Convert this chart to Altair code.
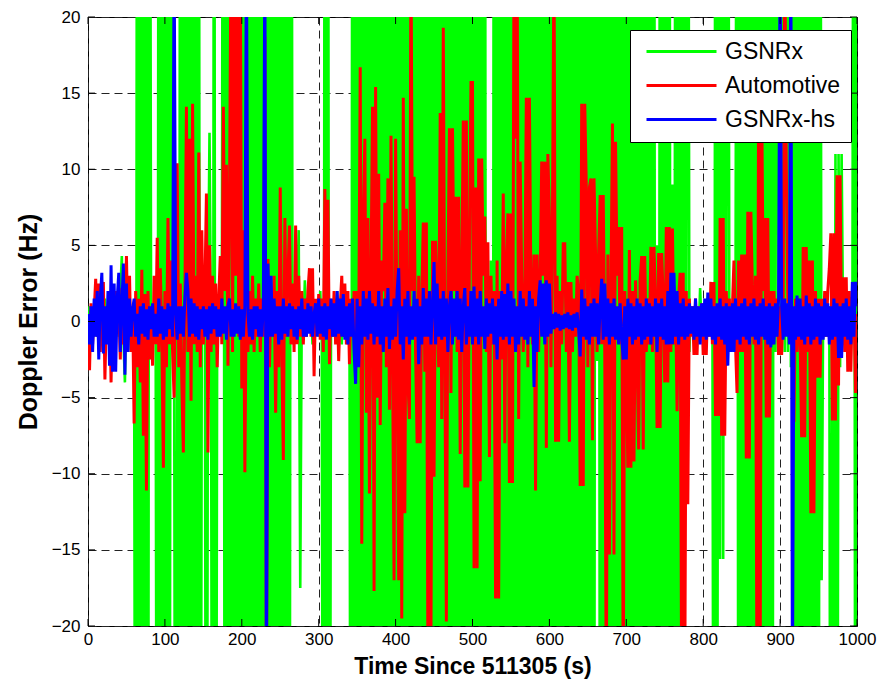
import altair as alt
import pandas as pd

# Doppler error of three receivers, one sample every 2 s over 1000 s
t = list(range(0, 1001, 2))

gsnrx = [
    -0.5, 1.0, -1.5, 0.5, -1.0, 1.5, -1.0, 0.5, -1.5, 1.0,
    -0.5, 1.5, -1.0, 0.8, -1.2, 1.0, -1.5, 2.0, -1.0, 1.5,
    -1.0, 2.0, 4.3, -1.0, -4.0, 1.5, -2.0, 1.0, -1.0, 0.5,
    -1.0, -60, 60, -60, 60, -60, 60, -60, 60, -60,
    60, 0.5, -1.0, 1.0, -0.5, -60, 60, -60, 60, -60,
    60, -60, 60, -60, 60, 1.0, -1.0, -60, 1.5, -60,
    60, -60, 60, -60, 60, -60, 60, -60, 60, -60,
    60, -60, 60, -60, 1.0, -1.0, 0.5, -60, 1.0, 12.4,
    -1.0, -60, 60, -60, 1.0, -1.0, 1.5, -1.0, 60, -60,
    60, -60, 60, -60, 60, -60, 60, -60, 60, -60,
    60, -60, 60, -60, 60, -60, 60, -60, 60, -60,
    60, -60, 60, -60, 60, -60, 60, -60, 60, -60,
    60, -60, 60, -60, 60, -60, 60, -60, 60, -60,
    60, -60, 60, -1.0, 1.0, -1.0, 1.5, 6.0, -17.5, 1.0,
    -1.0, 2.7, -1.0, 1.5, -0.5, 1.0, -1.5, 1.0, -0.5, 1.0,
    -1.0, 2.0, -1.0, -60, 60, -60, 60, -60, 1.0, -1.0,
    1.0, -0.5, 2.0, -1.0, 1.0, -1.5, 2.0, -1.0, 1.5, -0.5,
    1.0, -60, 60, -60, 60, -60, 60, -60, 60, -60,
    60, -60, 60, -60, 60, -60, 60, -60, 60, -60,
    60, -60, 60, -60, 60, -60, 60, -60, 60, -60,
    60, -60, 60, -60, 60, -60, 60, -60, 60, -60,
    60, -60, 60, -60, 60, -60, 60, -60, 60, -60,
    60, -60, 60, -60, 60, -60, 60, -60, 60, -60,
    60, -60, 60, -60, 60, -60, 60, -60, 60, -60,
    60, -60, 60, -60, 60, -60, 60, -60, 60, -60,
    60, -60, 60, -60, 60, -60, 60, -60, 60, -60,
    4.0, -60, 4.0, -60, 60, -60, 60, -60, 60, -60,
    60, -60, 60, -60, 60, -60, 60, -60, 60, -60,
    60, -60, 60, -60, 60, -60, 60, -60, 60, -60,
    60, -60, 60, -60, 60, -60, 60, -60, 60, -60,
    60, -60, 60, -60, 60, -60, 60, -60, 60, -60,
    60, -60, 60, -60, 60, -60, 60, -60, 60, -60,
    60, -60, 60, -60, 60, -60, 60, -60, 60, -60,
    60, -2.6, 60, -60, 60, -60, 60, -60, 60, -60,
    60, -60, 60, -60, 60, -60, 60, -60, 60, -60,
    60, -60, 60, -60, 60, -60, 60, -60, 60, -60,
    60, -60, 60, -60, 60, -60, 60, -60, 60, -60,
    5.0, -60, 60, -60, 60, -60, 60, -60, 60, -60,
    9.0, -60, 60, -60, 60, -60, 60, -60, 60, -3.0,
    60, -2.0, 1.0, -0.5, 1.0, -1.0, 0.5, -1.0, 2.2, -0.5,
    1.0, -1.0, 0.5, -1.0, 1.0, -0.5, 1.0, -60, 60, -60,
    60, -15.6, 60, -15.6, 60, -2.0, 60, -1.0, 1.0, -0.5,
    1.0, -1.0, 60, -60, 60, -60, 60, -60, 60, -60,
    60, -60, 60, -60, 60, -60, 60, -60, 60, -60,
    60, -60, 60, -60, 60, -60, 60, -2.0, 60, -1.0,
    60, -1.0, 60, -2.0, 60, -2.0, 60, -3.0, 60, -60,
    60, -60, 60, -60, 60, -60, 60, -60, 60, -60,
    60, -60, 60, -60, 60, -60, 60, -17.0, 1.0, -1.0,
    0.5, -1.0, 1.0, -60, 3.0, -60, 11.0, -60, 11.0, -3.0,
    11.0, -1.0, 1.0, -0.5, 1.0, -1.0, 0.5, -1.0, 60, -60,
    60,
]

automotive = [
    0.5, -3.2, 1.2, -1.5, 0.6, 2.8, -1.0, 2.5, -2.0, 1.5,
    2.6, -3.8, 0.8, -1.2, 1.8, -4.0, 1.5, -1.8, 2.0, -0.8,
    1.2, -2.5, 2.2, -1.5, 0.5, 4.3, -1.2, 3.0, -2.0, 1.0,
    -6.7, 2.0, -3.0, 1.5, -4.0, 3.4, -7.5, 1.8, -11.1, 2.0,
    -2.5, 1.0, -2.9, 3.0, -1.5, 5.5, -2.0, 3.5, -1.0, -9.6,
    2.0, -3.0, 6.8, -1.5, 4.0, -2.0, -5.0, 3.0, 10.4, -3.0,
    2.5, -4.0, -8.6, 1.5, 14.1, -2.0, 12.0, -5.2, 14.3, -1.5,
    3.0, -2.0, 11.1, -3.0, 6.0, -1.5, 2.0, 8.4, -8.6, 5.0,
    -2.0, 3.0, -1.5, 2.5, -3.0, 1.5, 4.3, -1.5, 14.1, 2.0,
    10.3, -2.9, 8.0, 25, -2.0, 25, 3.0, 25, -1.0, 25,
    -4.4, 6.0, -9.9, 3.0, -2.0, 2.0, -1.5, 3.0, -2.0, 1.5,
    -1.0, 2.5, -2.0, 1.5, -1.0, 18.7, -25, 4.1, -3.0, 2.0,
    -1.0, 3.0, -6.0, 2.0, -3.0, 8.8, -2.0, -9.1, 6.8, -1.0,
    3.0, 6.3, -1.5, 2.5, -2.0, 6.3, -1.5, 3.0, -1.0, 2.0,
    -1.5, 1.5, -1.0, 2.0, 3.5, -1.0, 3.5, -3.6, 1.5, -0.8,
    1.8, -1.2, 1.5, -2.0, 8.7, -1.0, 8.0, -2.8, 1.5, -1.0,
    2.0, -1.5, 1.5, -2.6, 1.0, 3.0, -1.0, 2.5, -1.5, 2.0,
    -2.8, 1.5, -1.0, 2.0, -1.5, 2.0, -1.5, 16.7, -14.6, 6.8,
    12.0, -6.0, 6.8, -11.3, 3.0, 14.1, -17.7, 15.4, -5.0, 9.7,
    -6.8, 4.0, 2.0, 7.8, -3.0, 9.4, -5.8, 12.2, -2.0, -17.0,
    12.0, -3.0, -17.0, 6.0, -19.5, 14.7, -12.6, 7.4, -4.0, -6.4,
    25, 2.0, 9.5, -2.0, -8.0, 3.0, -8.0, 1.5, 6.5, -3.3,
    6.5, -22, 2.0, -20.5, 5.3, -10.2, 5.3, 2.0, -3.0, 13.7,
    -6.4, 19.3, -2.0, -19.7, 3.0, 12.7, -4.7, 12.7, 2.0, 8.2,
    -2.0, 8.2, -8.7, 3.0, 13.2, -10.9, 13.2, -10.9, 4.0, 15.7,
    15.7, -16.2, 8.8, -16.2, 10.7, -10.5, 10.7, 3.0, 6.9, -2.0,
    5.2, -8.9, 3.0, -1.5, 2.0, -18.2, 4.0, -18.2, 2.0, -2.5,
    8.4, -8.0, 4.0, 7.1, -10.6, 7.1, -10.6, 25, 12.0, 25,
    -6.4, 10.5, 3.0, -2.0, 1.5, 14.7, -3.0, 14.7, 2.0, -1.5,
    4.4, -11.1, 4.4, -2.0, 2.5, 10.5, 3.0, 10.5, -8.3, 11.0,
    7.0, -3.0, 7.0, 25, -7.9, 3.0, -7.9, 2.0, -1.5, 5.1,
    5.1, -2.0, 2.6, -7.9, 2.6, -2.0, 1.5, -1.0, 3.0, 2.0,
    -10.8, 14.3, -10.8, 14.3, 8.8, -3.0, 8.8, 9.4, -7.8, 9.4,
    4.5, -2.0, 4.5, 8.3, -1.5, 8.3, -2.0, -25, 4.4, -15.3,
    2.0, 13.0, -15.3, 11.8, 3.0, 6.2, -1.5, 6.2, -25, 2.0,
    -3.0, -9.6, 4.7, -9.6, 2.0, -9.2, 2.7, -2.0, -8.4, 2.7,
    4.3, -8.4, 4.3, -2.0, 1.5, -1.5, 4.9, -2.0, 4.9, 1.5,
    -7.0, 4.5, -7.0, 4.5, 1.5, -4.0, 6.2, -4.0, 6.2, -2.0,
    6.1, -1.5, 2.0, -5.9, 1.5, 3.2, -25, 3.2, -25, 2.0,
    -12.0, 1.5, -1.0, 1.0, -2.2, 1.5, -2.2, 1.0, -1.0, 1.2,
    -2.2, 1.0, -2.2, 1.5, -1.0, 2.6, -1.5, 2.6, -6.2, 1.0,
    -6.2, 6.8, -7.5, 6.8, -7.5, 2.0, -1.5, 1.5, -2.0, 1.0,
    4.0, -1.5, -4.7, 4.0, -2.0, 4.4, -2.0, 4.4, -9.0, 7.2,
    -9.0, 7.2, 2.0, -1.5, 3.0, -25, 15.0, -25, 15.0, 2.0,
    6.8, -6.3, 6.8, -6.3, 2.0, -1.5, 2.0, -1.0, 1.5, -2.2,
    1.0, -2.2, 1.0, 25, 10.6, 1.5, -1.0, 2.0, -1.5, -6.6,
    1.5, -2.0, 1.5, -1.0, -7.6, 4.9, -7.6, 4.9, -2.0, 4.0,
    -12.6, 4.0, -12.6, 2.0, -3.7, 1.5, -3.7, 1.5, -1.0, 2.0,
    -1.0, 2.0, 3.5, 5.8, -6.5, 5.8, -6.5, 9.6, -4.2, 9.6,
    -1.5, 2.9, -2.0, 2.9, -3.3, 2.0, -3.3, 1.5, 1.5, -4.7,
    0.5,
]

gsnrx_hs = [
    0.5, -1.5, 1.0, -2.0, 1.5, -1.0, 2.0, -2.5, 1.5, 3.2,
    -2.1, 1.0, -1.5, 2.0, -2.9, 3.7, -3.3, 2.5, -3.3, 1.5,
    3.2, -2.0, 1.0, 3.8, -3.5, 2.5, -2.0, 1.5, -1.0, 0.8,
    1.5, -1.0, 0.5, -1.5, 1.0, -0.8, 1.2, -1.0, 0.8, -1.2,
    1.0, -0.5, 1.2, -1.0, 0.5, -1.0, 1.5, -0.8, 1.0, -1.2,
    0.8, -1.0, 1.2, -0.5, 1.0, -1.0, 25, 0.5, -1.2, 1.0,
    -0.8, 1.0, -1.0, 1.5, 3.2, 2.0, -1.0, 1.5, -0.8, 1.2,
    -1.0, 1.0, -1.2, 0.8, -0.5, 1.0, -1.0, 0.8, -1.2, 1.0,
    -0.8, 1.2, -0.5, 1.0, -1.0, 0.8, -1.0, 1.5, -0.8, 1.0,
    -1.2, 1.0, 1.5, -1.0, 0.8, -1.0, 1.2, -0.8, 1.0, -1.2,
    0.8, -1.0, 1.0, 25, 0.5, -1.0, 0.8, -1.2, 1.0, -0.5,
    1.0, -1.0, 0.8, -1.0, 1.0, 25, -25, 3.8, -1.0, 3.0,
    -1.0, 1.5, -0.8, 1.0, -1.5, 1.0, -1.2, 1.5, -0.8, 1.0,
    -1.0, 1.2, -0.5, 1.0, -1.0, 0.8, -1.2, 1.0, -0.5, 1.5,
    -1.0, 0.8, -1.0, 1.2, -0.8, 1.0, -1.0, 0.5, 1.2, -1.0,
    1.5, -0.8, 1.0, -1.0, 1.2, -1.2, 1.0, -0.5, 1.5, -1.0,
    1.2, -1.0, 2.0, -0.8, 1.5, -1.0, 1.8, -1.2, 1.0, -1.5,
    1.2, -1.0, 1.5, -2.0, -4.1, 1.5, -3.0, 1.0, -1.5, 2.0,
    -1.0, 1.5, -1.2, 2.0, -0.8, 1.2, -1.5, 1.0, -1.0, 2.0,
    -1.5, 1.0, -2.0, 1.5, -1.0, 2.2, -1.8, 1.0, -1.2, 1.5,
    -1.0, 2.0, 3.5, -1.5, 1.0, -2.5, 1.5, -1.0, 2.0, -1.5,
    1.0, -1.2, 2.0, -1.0, 1.5, -2.8, 1.0, -1.5, 2.2, -1.0,
    1.5, -1.0, 2.0, -1.5, 1.0, 3.9, -1.5, 2.5, -1.0, 1.5,
    -1.2, 2.0, -1.0, 1.5, -2.0, 1.0, 2.0, -1.5, 1.5, -1.0,
    2.0, -1.2, 1.5, -2.0, 1.0, 2.2, -1.5, 1.0, -1.0, 2.0,
    -1.5, 2.3, -1.0, 1.5, -1.5, 2.0, -1.0, 1.0, -1.8, 1.5,
    -1.0, 1.2, -0.8, 1.5, -1.5, 1.0, -2.5, 1.5, -1.0, 2.0,
    -1.2, 1.8, -1.0, 2.5, -1.5, 2.0, -1.0, 1.5, -2.0, 1.0,
    -1.5, 2.0, -1.0, 1.5, -1.2, 1.0, -1.5, 2.0, -1.0, 1.5,
    -4.3, 1.0, -2.0, 1.5, 2.7, -1.0, 2.5, -1.5, 2.7, -1.0,
    2.5, -0.8, 0.5, -0.5, 0.6, -0.4, 0.5, -0.6, 0.4, -0.5,
    0.5, -0.4, 0.6, -0.5, 0.4, -0.6, 0.5, -0.4, 0.6, -0.5,
    -2.3, 2.1, -1.0, 1.5, -1.2, 1.0, -1.5, 1.2, -1.0, 1.5,
    -1.0, 1.2, -1.5, 1.0, 2.8, -1.2, 2.5, -1.0, 1.5, -1.5,
    1.2, -1.0, 1.5, -1.2, 1.0, -1.5, 1.2, -1.0, -2.5, 1.0,
    -2.5, 1.5, -1.0, 1.2, -1.5, 1.0, -1.2, 1.5, -1.0, 1.2,
    -1.5, 1.0, -1.2, 1.5, -1.0, 1.2, -1.5, 1.0, -1.0, 1.5,
    -2.0, 1.2, -1.0, 1.5, -1.2, 1.0, -1.5, 2.0, -1.5, 3.2,
    -1.5, 3.2, -1.0, 2.0, -1.5, 1.2, -1.0, 1.5, -1.2, 1.0,
    -1.0, 1.2, -0.8, 1.0, -1.2, 1.5, -1.0, 1.0, -1.5, 1.2,
    -1.0, 1.5, -1.2, 1.9, -1.0, 1.5, -1.2, 1.0, -1.5, 1.2,
    -1.0, 1.5, -1.2, 1.0, -1.5, 1.2, -2.9, 1.0, -2.0, 1.2,
    -2.0, 1.5, -1.2, 1.0, -1.5, 1.2, -1.0, 1.5, -1.2, 1.0,
    -1.5, 1.2, -1.0, 1.5, -1.2, 1.0, -1.5, 1.2, -1.0, 1.5,
    -1.2, 1.0, -1.5, 1.2, -1.7, 1.0, -1.5, 1.2, -1.0, 1.5,
    25, 1.0, -1.2, 1.5, -1.0, 1.2, -1.5, 25, -25, 1.0,
    -1.2, 1.7, -1.0, 1.5, -1.2, 1.0, -1.5, 1.7, -1.0, 1.2,
    -1.5, 1.0, -1.2, 1.5, -1.0, 1.2, -1.5, 1.0, -1.2, 1.5,
    -1.0, 1.2, -1.5, 1.0, -1.2, 1.5, -1.0, 1.2, -2.4, 1.0,
    -2.4, 1.2, -1.0, 1.5, -1.2, 1.0, -1.5, 2.6, -1.0, 2.6,
    1.0,
]

series_names = ["GSNRx", "Automotive", "GSNRx-hs"]
series_colors = ["#00FF00", "#FF0000", "#0000FF"]
series_widths = [2.6, 3.0, 3.0]
x_ticks = list(range(0, 1001, 100))
y_ticks = list(range(-20, 21, 5))

frames = [
    pd.DataFrame({"t": t, "err": vals, "series": name})
    for name, vals in zip(series_names, [gsnrx, automotive, gsnrx_hs])
]
df = pd.concat(frames, ignore_index=True)

FONT = "Liberation Sans, Arial, Helvetica, sans-serif"

x_enc = alt.X(
    "t:Q",
    scale=alt.Scale(domain=[0, 1000], nice=False, zero=False),
    axis=alt.Axis(values=x_ticks, format="d", title="Time Since 511305 (s)"),
)
y_enc = alt.Y(
    "err:Q",
    scale=alt.Scale(domain=[-20, 20], nice=False, zero=False),
    axis=alt.Axis(values=y_ticks, format="d", title="Doppler Error (Hz)"),
)
color_enc = alt.Color(
    "series:N",
    scale=alt.Scale(domain=series_names, range=series_colors),
    legend=alt.Legend(
        title=None,
        orient="none",
        legendX=542,
        legendY=13,
        direction="vertical",
        symbolType="M-3.5,0H3.5",
        symbolSize=400,
        symbolStrokeWidth=3,
        symbolOffset=30,
        labelFont=FONT,
        labelFontSize=23,
        labelColor="black",
        labelOffset=32,
        rowPadding=10,
        padding=10,
        strokeColor="black",
        fillColor="white",
        cornerRadius=0,
    ),
)

# one layer per receiver so green sits below red, red below blue
lines = [
    alt.Chart(df)
    .transform_filter(alt.datum.series == name)
    .mark_line(strokeWidth=w, clip=True)
    .encode(x=x_enc, y=y_enc, color=color_enc)
    for name, w in zip(series_names, series_widths)
]

# inward tick marks on all four sides of the box
xt = pd.DataFrame({"t": x_ticks})
yt = pd.DataFrame({"err": y_ticks})
tick_style = dict(color="black", strokeWidth=1)
ticks = [
    alt.Chart(xt).mark_rule(**tick_style).encode(x=x_enc, y=alt.value(609), y2=alt.value(602)),
    alt.Chart(xt).mark_rule(**tick_style).encode(x=x_enc, y=alt.value(0), y2=alt.value(7)),
    alt.Chart(yt).mark_rule(**tick_style).encode(y=y_enc, x=alt.value(0), x2=alt.value(7)),
    alt.Chart(yt).mark_rule(**tick_style).encode(y=y_enc, x=alt.value(769), x2=alt.value(762)),
]

chart = (
    alt.layer(*lines, *ticks)
    .properties(
        width=769,
        height=609,
        autosize=alt.AutoSizeParams(type="none"),
        padding={"left": 88, "top": 17, "right": 28, "bottom": 62},
        background="white",
    )
    .configure_view(stroke="black", strokeWidth=1)
    .configure_axis(
        domain=False,
        ticks=False,
        grid=True,
        gridColor="#222222",
        gridDash=[8, 5],
        gridWidth=1,
        gridOpacity=1,
        labelFlush=False,
        labelFont=FONT,
        labelFontSize=17,
        labelColor="black",
        titleFont=FONT,
        titleFontSize=23,
        titleFontWeight="bold",
        titleColor="black",
    )
    .configure_axisX(labelPadding=5, titlePadding=8)
    .configure_axisY(labelPadding=8, titlePadding=10, titleFontSize=25)
)

chart.save("out.html", embed_options={"renderer": "svg", "actions": False})
